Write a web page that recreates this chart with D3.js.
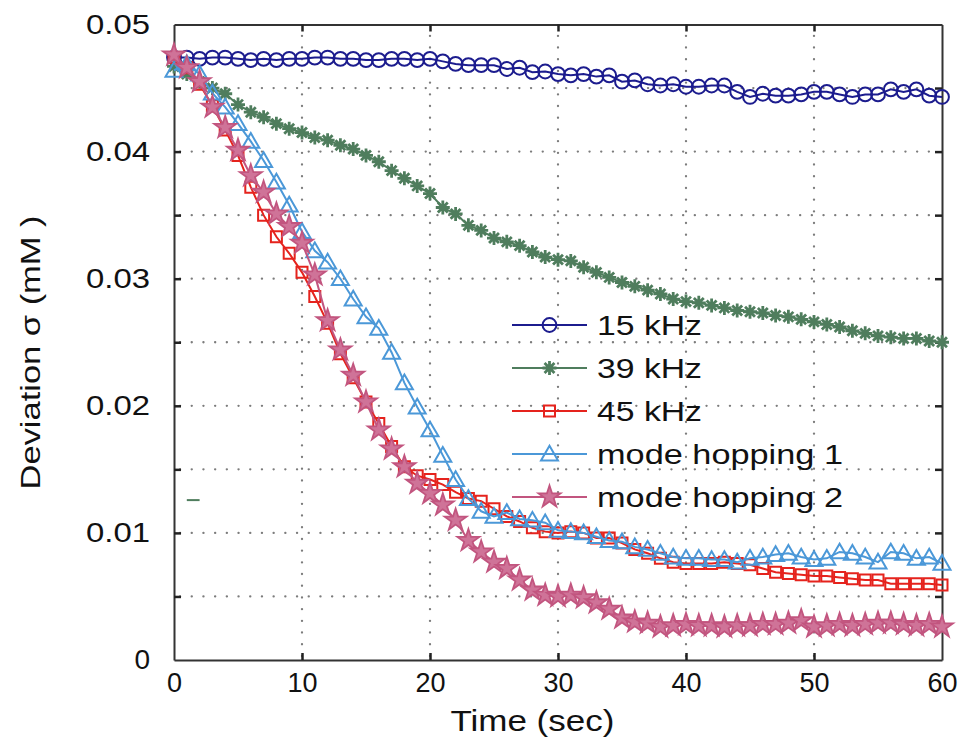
<!DOCTYPE html>
<html><head><meta charset="utf-8">
<script src="https://cdn.jsdelivr.net/npm/d3@7"></script>
<style>
html,body{margin:0;padding:0;background:#fff;}
svg{display:block;font-family:"Liberation Sans",Arial,Helvetica,sans-serif;}
</style></head>
<body><svg id="c" width="967" height="749"></svg>
<script>
// ---------- data ----------
const times = d3.range(0, 61); // seconds, one sample per second
const s15k = [.0474,.0474,.0473,.0474,.0474,.0473,.0472,.0473,.0472,.0473,.0473,.0474,.0474,.0473,.0473,.0472,.0472,.0473,.0473,.0472,
  .0473,.0471,.0469,.0468,.0468,.0468,.0465,.0466,.04625,.0463,.0461,.0460,.0461,.0459,.0460,.0455,.0456,.0453,.0452,.0453,
  .0451,.0451,.0452,.0452,.0447,.0443,.04455,.0444,.0444,.0445,.0447,.0447,.0445,.0443,.0445,.0445,.0449,.0447,.0449,.0444,.0443];
const s39k = [.0467,.0461,.0455,.0450,.04455,.0437,.0431,.0427,.0422,.0418,.0415,.0411,.0409,.0405,.0402,.0397,.0392,.0385,.0379,.0373,
  .0367,.0356,.0351,.0342,.0338,.0332,.0329,.0326,.0321,.0317,.0315,.0314,.0309,.0305,.0301,.0297,.0294,.0291,.0288,.0284,
  .0282,.0281,.0279,.0277,.0275,.0274,.0273,.0271,.0270,.0268,.0266,.0264,.0262,.0259,.0257,.0255,.0254,.0253,.0253,.0251,.0250];
const s45k = [.0474,.0466,.0453,.0436,.0417,.0397,.0372,.0350,.0333,.0320,.0305,.0286,.0265,.0241,.0222,.0203,.0186,.0168,.0152,.0145,
  .0142,.0138,.0132,.0127,.0125,.0119,.0113,.0109,.0104,.0101,.0100,.0101,.0100,.0096,.0096,.0092,.0087,.0084,.0080,.0077,
  .0076,.0076,.0076,.0077,.0076,.0075,.0072,.0069,.0068,.0067,.0066,.0066,.0065,.0064,.0063,.0063,.0060,.0060,.0060,.0060,.0059];
const sHop1 = [.0464,.0469,.0461,.0446,.0435,.0422,.0408,.0393,.0376,.0358,.0337,.0322,.0313,.0300,.0284,.0270,.0261,.0242,.0218,.0199,
  .0181,.0161,.0142,.0127,.0117,.0113,.0116,.0111,.0110,.0108,.0102,.0101,.0100,.0097,.0094,.0093,.0089,.0087,.0084,.0081,
  .0080,.0080,.0079,.0079,.0077,.0080,.0081,.0083,.0084,.0081,.0079,.0080,.0085,.0084,.0081,.0077,.0085,.0084,.0080,.0081,.0076];
const sHop2 = [.0476,.0466,.0455,.0435,.0419,.0401,.0381,.0368,.0351,.0341,.0328,.0303,.0267,.0244,.0224,.0203,.0181,.0166,.0152,.0139,
  .0131,.0122,.0110,.0094,.0085,.0077,.0072,.0063,.0055,.0051,.0050,.0051,.0049,.0045,.0040,.0033,.0030,.0029,.0026,.0027,
  .0028,.0027,.0027,.0026,.0027,.0027,.0028,.0028,.0029,.0031,.0026,.0027,.0028,.0027,.0028,.0029,.0029,.0028,.0027,.0028,.0026];
const seriesNames = ["15 kHz","39 kHz","45 kHz","mode hopping 1","mode hopping 2"];
const xTicks = [0,10,20,30,40,50,60];
const yTicks = [0,.005,.01,.015,.02,.025,.03,.035,.04,.045,.05];
const yLabels = ["0","","0.01","","0.02","","0.03","","0.04","","0.05"];
const xLabel = "Time (sec)";
const yLabel = "Deviation  σ (mM )";
const strayDash = [[1.0,.01258],[2.0,.01258]]; // small stray green mark in the original

// ---------- styles ----------
const styles = [
  {color:"#1c1c8e", marker:"circle"},
  {color:"#4f7d5d", marker:"asterisk"},
  {color:"#e5231d", marker:"square"},
  {color:"#4b98d8", marker:"triangle"},
  {color:"#c2557f", marker:"star"}
];
const allSeries = [s15k,s39k,s45k,sHop1,sHop2];

const svg = d3.select("#c");
const L=174, R=942, T=24.5, B=660;
const x = d3.scaleLinear().domain([0,60]).range([L,R]);
const y = d3.scaleLinear().domain([0,0.05]).range([B,T]);

// gridlines
const grid = svg.append("g").attr("stroke","#666").attr("stroke-width",2.3)
  .attr("stroke-dasharray","0.1,11.6").attr("stroke-linecap","round").attr("opacity",0.85);
grid.selectAll(".gx").data(xTicks.slice(1,-1)).join("line")
  .attr("x1",d=>x(d)).attr("x2",d=>x(d)).attr("y1",B-4).attr("y2",T+4);
grid.selectAll(".gy").data(yTicks.slice(1,-1)).join("line")
  .attr("y1",d=>y(d)).attr("y2",d=>y(d)).attr("x1",L+6).attr("x2",R-4);

// axes
const fmtY = d => yLabels[yTicks.indexOf(d)];
const axL = svg.append("g").attr("transform",`translate(${L},0)`)
  .call(d3.axisLeft(y).tickValues(yTicks).tickSizeInner(-7).tickSizeOuter(0).tickPadding(24).tickFormat(fmtY));
const axR = svg.append("g").attr("transform",`translate(${R},0)`)
  .call(d3.axisRight(y).tickValues(yTicks).tickSizeInner(-7).tickSizeOuter(0).tickFormat(""));
const axB = svg.append("g").attr("transform",`translate(0,${B})`)
  .call(d3.axisBottom(x).tickValues(xTicks).tickSizeInner(-7).tickSizeOuter(0).tickPadding(13).tickFormat(d3.format("d")));
const axT = svg.append("g").attr("transform",`translate(0,${T})`)
  .call(d3.axisTop(x).tickValues(xTicks).tickSizeInner(-7).tickSizeOuter(0).tickFormat(""));
[axL,axR,axB,axT].forEach(a=>{
  a.select(".domain").attr("stroke","#333").attr("stroke-width",2);
  a.selectAll(".tick line").attr("stroke","#222").attr("stroke-width",2.5);
});
axL.selectAll(".tick text").attr("font-size",28).attr("fill","#111")
  .attr("font-family","Liberation Sans, Arial, sans-serif")
  .each(function(d){ const t=d3.select(this); const s=t.text(); if(s.length>1) t.attr("textLength",64).attr("lengthAdjust","spacingAndGlyphs"); });
axB.selectAll(".tick text").attr("font-size",27).attr("fill","#111").attr("font-family","Liberation Sans, Arial, sans-serif");
axB.selectAll(".tick").filter(d=>d===0||d===60).select("line").remove();
axT.selectAll(".tick").filter(d=>d===0||d===60).select("line").remove();
axL.selectAll(".tick").filter(d=>d===0||d===0.05).select("line").remove();
axR.selectAll(".tick").filter(d=>d===0||d===0.05).select("line").remove();

// axis titles
svg.append("text").attr("x",x(28)).attr("y",731).attr("text-anchor","middle")
  .attr("font-size",29).attr("fill","#111").attr("textLength",164).attr("lengthAdjust","spacingAndGlyphs").text(xLabel);
svg.append("text").attr("transform",`translate(40,${y(0.0242)}) rotate(-90)`).attr("text-anchor","middle")
  .attr("font-size",28).attr("fill","#111").attr("textLength",274).attr("lengthAdjust","spacingAndGlyphs").text(yLabel);

// marker generator
function markerPath(type){
  switch(type){
    case "circle": return d3.symbol(d3.symbolCircle,150)();
    case "square": return d3.symbol(d3.symbolSquare,121)();
    case "triangle": return d3.symbol(d3.symbolTriangle,125)();
    case "star": return d3.symbol(d3.symbolStar,150)();
    case "asterisk": {
      const r=7, p=d3.path();
      for(let k=0;k<4;k++){const a=k*Math.PI/4; p.moveTo(-r*Math.cos(a),-r*Math.sin(a)); p.lineTo(r*Math.cos(a),r*Math.sin(a));}
      return p.toString();
    }
  }
}
function drawMarker(g,type,color){
  const p = g.append("path").attr("d",markerPath(type)).attr("stroke",color).attr("stroke-width",2);
  if(type==="star") p.attr("fill","#cf7398").attr("stroke-width",1.8);
  else p.attr("fill","none");
  if(type==="triangle") p.attr("transform","translate(0,1.5)");
  if(type==="asterisk") p.attr("stroke-width",2.8);
  return p;
}

const line = d3.line().x((d,i)=>x(times[i])).y(d=>y(d));
const plot = svg.append("g");
allSeries.forEach((vals,si)=>{
  const st = styles[si];
  const g = plot.append("g");
  g.append("path").attr("d",line(vals)).attr("fill","none").attr("stroke",st.color).attr("stroke-width",2);
  vals.forEach((v,i)=>{
    const mg = g.append("g").attr("transform",`translate(${x(times[i])},${y(v)})`);
    drawMarker(mg,st.marker,st.color);
  });
});

// stray mark
svg.append("path").attr("d",d3.line().x(d=>x(d[0])).y(d=>y(d[1]))(strayDash))
  .attr("stroke","#4f7d5d").attr("stroke-width",2);

// legend
const legX0 = 512, legX1 = 587, legTextX = 597;
const legY = [325,368,411,454,497];
const leg = svg.append("g");
seriesNames.forEach((name,i)=>{
  const st = styles[i];
  const g = leg.append("g").attr("transform",`translate(0,${legY[i]})`);
  g.append("line").attr("x1",legX0).attr("x2",legX1).attr("stroke",st.color).attr("stroke-width",2);
  const mg = g.append("g").attr("transform",`translate(${(legX0+legX1)/2},0)`);
  drawMarker(mg,st.marker,st.color);
  const tl = name.length>7 ? 246 : 105;
  g.append("text").attr("x",legTextX).attr("y",10).attr("font-size",28).attr("fill","#111")
    .attr("textLength",tl).attr("lengthAdjust","spacingAndGlyphs").text(name);
});
</script></body></html>
